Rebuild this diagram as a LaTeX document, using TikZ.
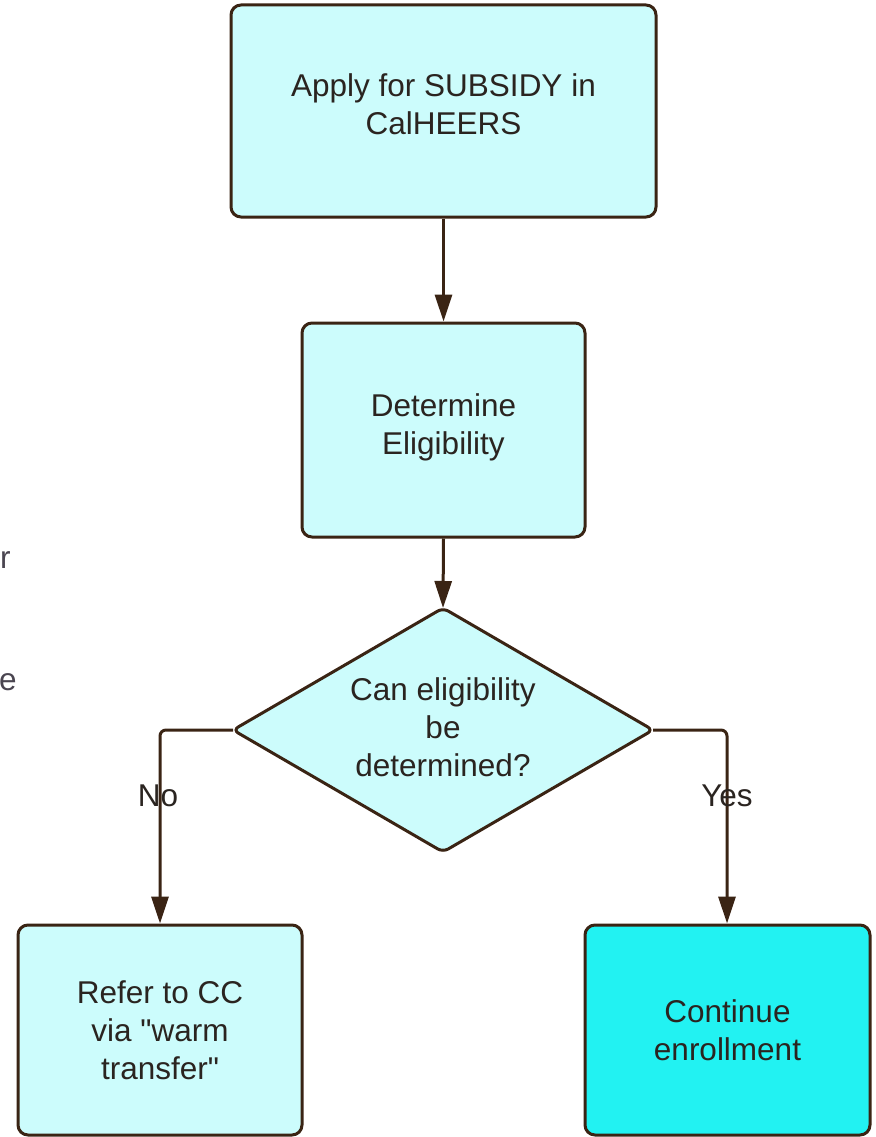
\documentclass[tikz,border=0pt]{standalone}
\usepackage{fontspec}
\setmainfont{Liberation Sans}
\usetikzlibrary{arrows.meta}
\definecolor{lnc}{HTML}{3A2414}
\definecolor{boxfill}{HTML}{CCFCFC}
\definecolor{brightfill}{HTML}{22F2F2}
\definecolor{txt}{HTML}{2A2420}
\definecolor{graytxt}{HTML}{4A4550}
\begin{document}
\begin{tikzpicture}[x=1pt,y=-1pt,
  font=\fontsize{31.5}{38}\selectfont,
  stepbox/.style={draw=lnc,line width=3pt,rounded corners=10pt,fill=boxfill,text=txt,align=center},
  conn/.style={draw=lnc,line width=3pt,-{Triangle[length=27pt,width=17pt]}},
  lbl/.style={text=txt,inner sep=0pt}]
\useasboundingbox (0,0) rectangle (875,1137);
\node[stepbox,minimum width=425pt,minimum height=212pt,text depth=14pt] (apply) at (443.5,111) {Apply for SUBSIDY in\\CalHEERS};
\node[stepbox,minimum width=283pt,minimum height=214pt,text depth=12pt] (det) at (443.5,430) {Determine\\Eligibility};
\path[draw=lnc,line width=3pt,fill=boxfill,rounded corners=6pt]
  (443,608) -- (653,730) -- (443,852) -- (233,730) -- cycle;
\coordinate (dtop) at (443,608);
\coordinate (dleft) at (233,730);
\coordinate (dright) at (653,730);
\node[lbl,align=center] (q) at (443,727) {Can eligibility\\be\\determined?};
\node[stepbox,minimum width=284pt,minimum height=210pt] (refer) at (160,1030) {Refer to CC\\via \textquotedbl warm\\transfer\textquotedbl};
\node[stepbox,fill=brightfill,minimum width=285pt,minimum height=210pt] (cont) at (727.5,1030) {Continue\\enrollment};
\draw[conn] (apply.south) -- (det.north);
\draw[conn] (det.south) -- (dtop);
\draw[conn,rounded corners=6pt] (dleft) -- (160,730) -- (refer.north -| 160,0);
\draw[conn,rounded corners=6pt] (dright) -- (727,730) -- (cont.north -| 727,0);
\node[lbl] (no) at (158,796) {No};
\node[lbl] (yes) at (727,796) {Yes};
\node[lbl,text=graytxt,anchor=west] (r) at (0,560) {r};
\node[lbl,text=graytxt,anchor=west] (e) at (-1,682) {e};
\end{tikzpicture}
\end{document}
